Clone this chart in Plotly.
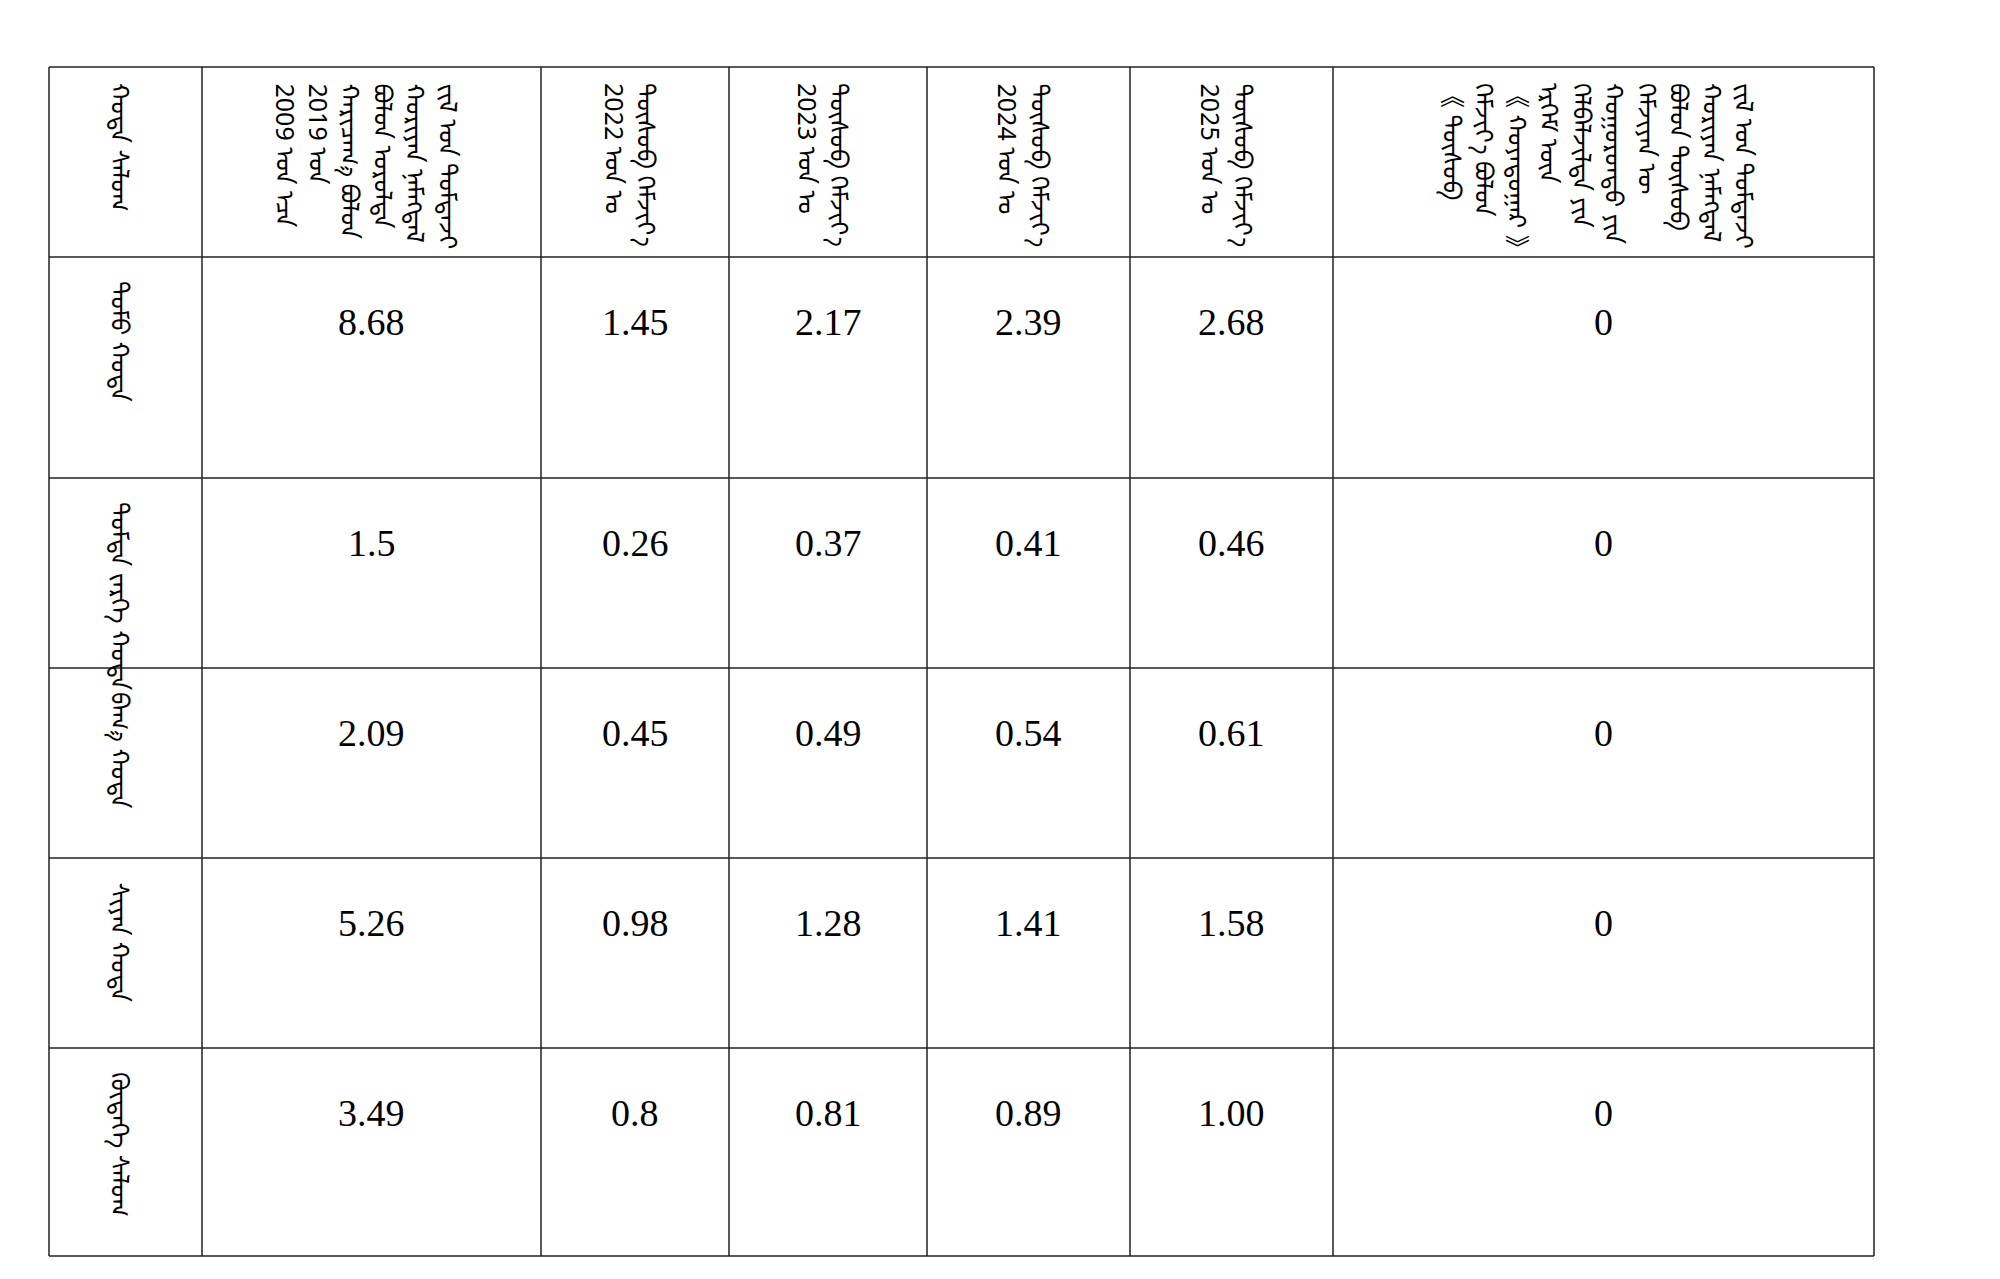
import plotly.graph_objects as go

W, H = 2000, 1279
headers = [
    "ᠬᠣᠲᠠ ᠰᠠᠯᠤᠭ",
    "ᠵᠢᠯ ᠤᠨ ᠳᠤᠮᠳᠠᠵᠢ<br>ᠬᠤᠷᠢᠶᠠᠨ ᠨᠡᠮᠡᠭᠳᠡᠯ<br>ᠪᠣᠯᠤᠨ ᠣᠷᠣᠯᠲᠠ<br>ᠬᠠᠷᠢᠴᠠᠭ᠎ᠠ ᠪᠣᠯᠤᠨ<br>2019 ᠣᠨ<br>2009 ᠣᠨ ᠡᠴᠡ",
    "ᠲᠥᠰᠥᠪ ᠬᠡᠮᠵᠢᠶ᠎ᠡ<br>2022 ᠣᠨ ᠤ",
    "ᠲᠥᠰᠥᠪ ᠬᠡᠮᠵᠢᠶ᠎ᠡ<br>2023 ᠣᠨ ᠤ",
    "ᠲᠥᠰᠥᠪ ᠬᠡᠮᠵᠢᠶ᠎ᠡ<br>2024 ᠣᠨ ᠤ",
    "ᠲᠥᠰᠥᠪ ᠬᠡᠮᠵᠢᠶ᠎ᠡ<br>2025 ᠣᠨ ᠤ",
    "ᠵᠢᠯ ᠤᠨ ᠳᠤᠮᠳᠠᠵᠢ<br>ᠬᠤᠷᠢᠶᠠᠨ ᠨᠡᠮᠡᠭᠳᠡᠯ<br>ᠪᠣᠯᠤᠨ ᠲᠥᠰᠥᠪ<br>ᠬᠡᠮᠵᠢᠶᠡᠨ ᠦ<br>ᠬᠣᠭᠣᠷᠣᠨᠳᠤ ᠶᠢᠨ<br>ᠬᠡᠯᠪᠡᠯᠵᠢᠯᠲᠡ ᠶᠢᠨ<br>ᠡᠷᠬᠡᠮ ᠦᠨ<br>《 ᠬᠣᠶᠠᠳᠤᠭᠠᠷ 》<br>ᠬᠡᠮᠵᠢᠶ᠎ᠡ ᠪᠣᠯᠤᠨ<br>《 ᠲᠥᠰᠥᠪ",
]
rows = ["ᠲᠣᠮᠣ ᠬᠣᠲᠠ", "ᠳᠤᠮᠳᠠ ᠵᠡᠷᠭᠡ ᠬᠣᠲᠠ", "ᠪᠠᠭ᠎ᠠ ᠬᠣᠲᠠ", "ᠰᠢᠶᠠᠨ ᠬᠣᠲᠠ", "ᠬᠥᠳᠡᠭᠡ ᠰᠠᠯᠤᠭ"]
v2009_2019 = ["8.68", "1.5", "2.09", "5.26", "3.49"]
v2022 = ["1.45", "0.26", "0.45", "0.98", "0.8"]
v2023 = ["2.17", "0.37", "0.49", "1.28", "0.81"]
v2024 = ["2.39", "0.41", "0.54", "1.41", "0.89"]
v2025 = ["2.68", "0.46", "0.61", "1.58", "1.00"]
vlast = ["0", "0", "0", "0", "0"]
cols = [v2009_2019, v2022, v2023, v2024, v2025, vlast]

xb = [41, 194, 533, 721, 919, 1122, 1325, 1866]
yb = [59, 249, 470, 660, 850, 1040, 1248]

fig = go.Figure()
shapes = []
for x in xb:
    shapes.append(dict(type="line", x0=x, x1=x, y0=yb[0], y1=yb[-1], line=dict(color="#222", width=1.5)))
for y in yb:
    shapes.append(dict(type="line", x0=xb[0], x1=xb[-1], y0=y, y1=y, line=dict(color="#222", width=1.5)))
ann = []
mfont = dict(family="Noto Sans Mongolian, Noto Sans, DejaVu Sans", size=25, color="black")
for i, h in enumerate(headers):
    ann.append(dict(x=(xb[i]+xb[i+1])/2, y=yb[0]+14, text=h, textangle=90, showarrow=False,
                    xanchor="center", yanchor="top", font=mfont, align="left"))
for r, lab in enumerate(rows):
    ann.append(dict(x=(xb[0]+xb[1])/2, y=yb[r+1]+22, text=lab, textangle=90, showarrow=False,
                    xanchor="center", yanchor="top", font=mfont))
    for c, col in enumerate(cols):
        ann.append(dict(x=(xb[c+1]+xb[c+2])/2, y=yb[r+1]+65, text=col[r], showarrow=False,
                        xanchor="center", yanchor="middle",
                        font=dict(family="Liberation Serif", size=38, color="black")))
fig.update_layout(width=W, height=H, margin=dict(l=0, r=0, t=0, b=0),
                  plot_bgcolor="white", paper_bgcolor="white", shapes=shapes, annotations=ann,
                  xaxis=dict(range=[0, W], visible=False, fixedrange=True),
                  yaxis=dict(range=[H, 0], visible=False, fixedrange=True))
fig.write_html("out.html")
